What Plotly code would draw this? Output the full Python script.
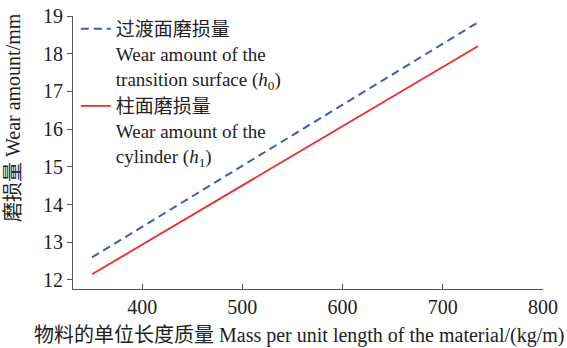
import plotly.graph_objects as go

# Data (straight lines)
mass = [350, 735]
wear_transition = [12.60, 18.83]
wear_cylinder = [12.15, 18.20]

x_ticks = [400, 500, 600, 700, 800]
y_ticks = [12, 13, 14, 15, 16, 17, 18, 19]

FONT = "Liberation Serif, Noto Sans CJK SC, serif"
FS = 20
LFS = 19

fig = go.Figure()
fig.add_trace(go.Scatter(
    x=mass, y=wear_transition, mode="lines",
    name="过渡面磨损量<br>Wear amount of the<br>transition surface (<i>h</i><sub>0</sub>)",
    line=dict(color="#3a5fb0", width=2, dash="8px,5px"),
))
fig.add_trace(go.Scatter(
    x=mass, y=wear_cylinder, mode="lines",
    name="柱面磨损量<br>Wear amount of the<br>cylinder (<i>h</i><sub>1</sub>)",
    line=dict(color="#ee2a2a", width=1.8),
))

axis_common = dict(
    showgrid=False, zeroline=False, showline=True, linecolor="#555555", linewidth=1,
    tickcolor="#555555", ticklen=5, tickwidth=1,
    tickfont=dict(family=FONT, size=FS, color="#222222"),
)

fig.update_layout(
    width=567, height=348,
    margin=dict(l=73, r=24, t=16, b=59, autoexpand=False),
    paper_bgcolor="white", plot_bgcolor="white",
    font=dict(family=FONT, size=FS, color="#222222"),
    showlegend=True,
    legend=dict(
        x=0.006, y=1.022, xanchor="left", yanchor="top",
        bgcolor="rgba(0,0,0,0)", valign="top",
        font=dict(family=FONT, size=LFS, color="#222222"),
        tracegroupgap=0, itemwidth=30,
    ),
    xaxis=dict(range=[331, 800], tickvals=x_ticks, ticks="inside", **axis_common),
    yaxis=dict(range=[11.76, 19], tickvals=y_ticks, ticks="outside", **axis_common),
    annotations=[
        dict(text="物料的单位长度质量 Mass per unit length of the material/(kg/m)",
             xref="paper", yref="paper", x=(299 - 73) / 470, y=-(335 - 289) / 273,
             xanchor="center", yanchor="middle", showarrow=False,
             font=dict(family=FONT, size=FS, color="#222222")),
        dict(text="磨损量 Wear amount/mm",
             xref="paper", yref="paper", x=(13 - 73) / 470, y=(289 - 118) / 273,
             xanchor="center", yanchor="middle", textangle=-90, showarrow=False,
             font=dict(family=FONT, size=FS, color="#222222")),
    ],
)

fig.write_html("out.html", post_script="document.body.style.margin='0';",
               config={"displayModeBar": False})
